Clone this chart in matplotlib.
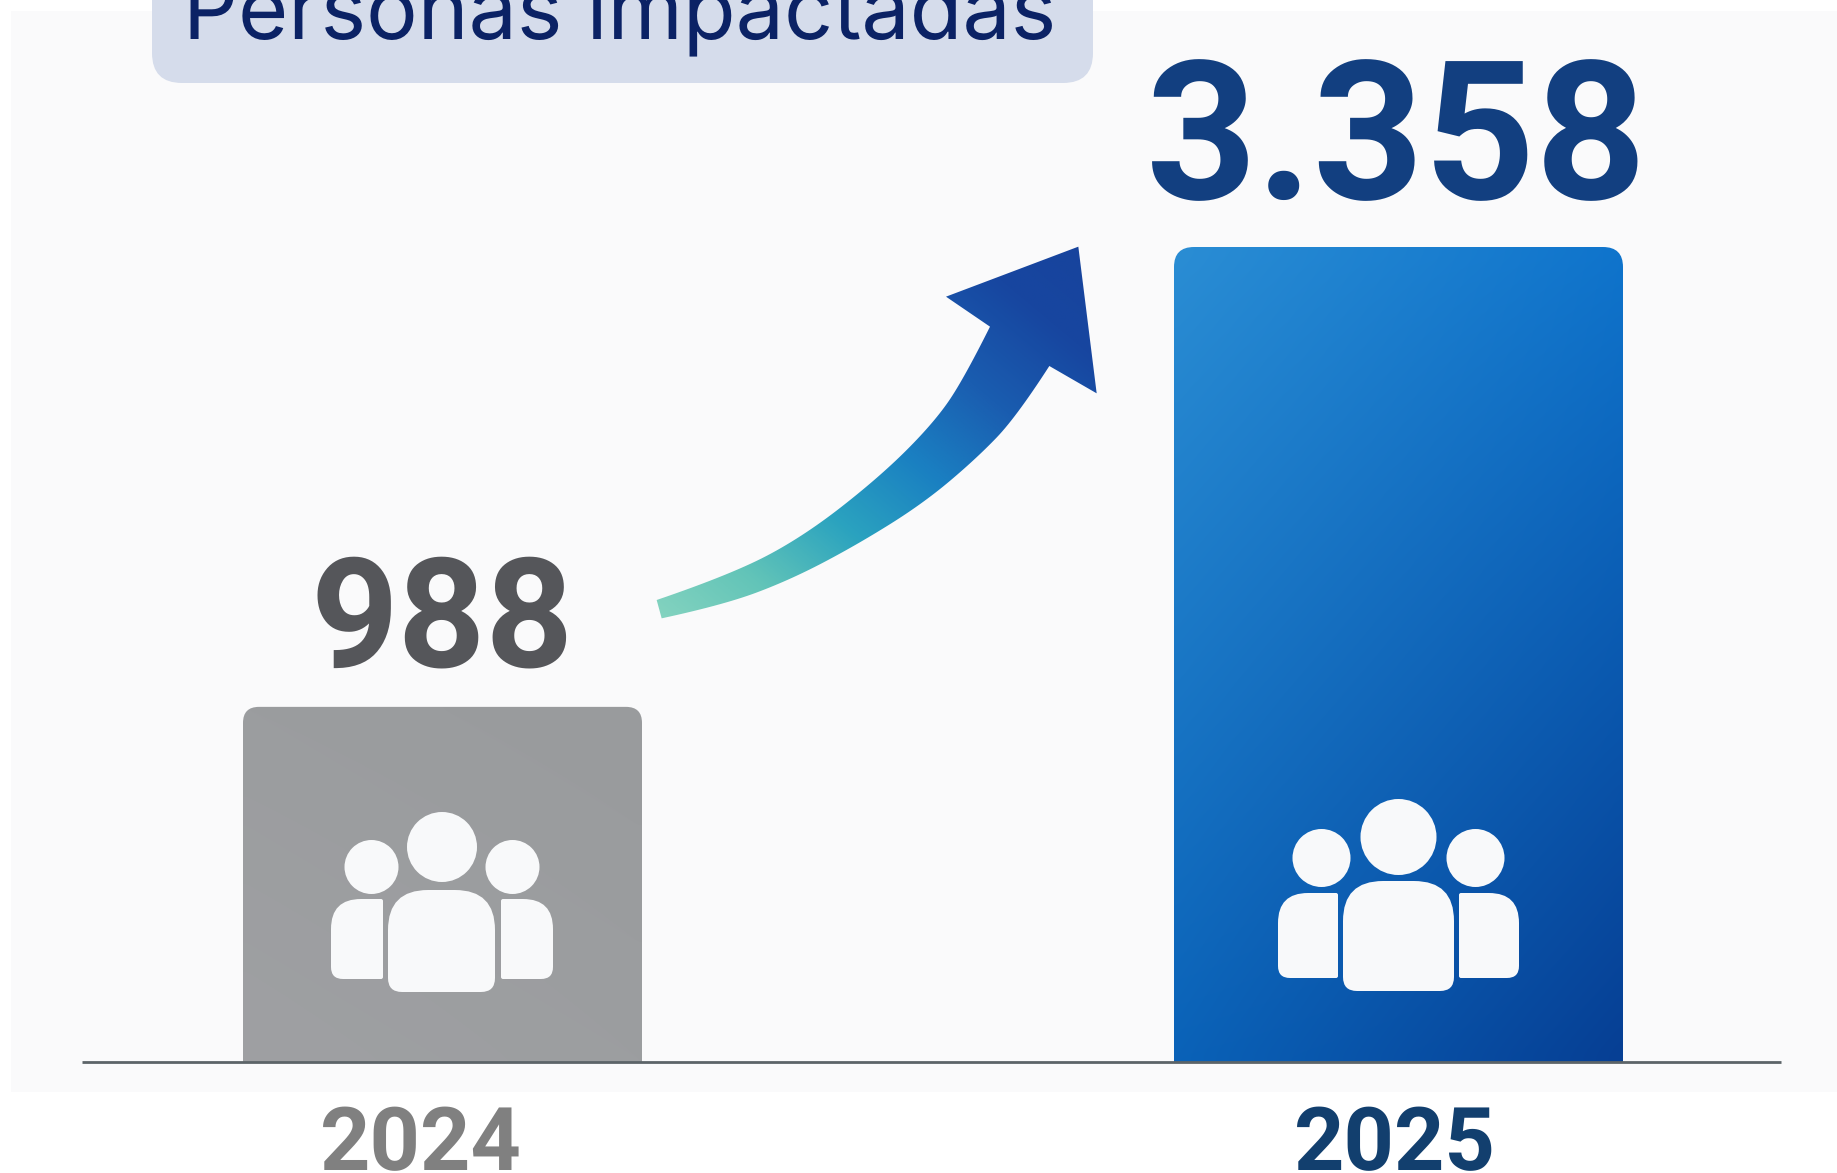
import numpy as np
import matplotlib
matplotlib.use('Agg')
import matplotlib.pyplot as plt
from matplotlib.colors import LinearSegmentedColormap, to_rgb
from matplotlib.patches import Circle, PathPatch, Rectangle
from matplotlib.path import Path

plt.rcParams['text.hinting'] = 'no_hinting'
plt.rcParams['text.hinting_factor'] = 1

# data
years = ['2024', '2025']
people = [988, 3358]
title = 'Personas impactadas'

W, H = 1837, 1173
BASE_Y = 1062
TOP_Y = 247
ICON = '#F8F9FA'
# the bars in the picture are not linear, a power scale fits both of them
POWER = 0.679


def rr_path(x0, y0, x1, y1, tl, tr, br, bl):
    # rounded box with its own radius on every corner
    verts = [(x0 + tl, y0), (x1 - tr, y0), (x1, y0), (x1, y0 + tr), (x1, y1 - br), (x1, y1), (x1 - br, y1),
             (x0 + bl, y1), (x0, y1), (x0, y1 - bl), (x0, y0 + tl), (x0, y0), (x0 + tl, y0), (x0 + tl, y0)]
    codes = [Path.MOVETO, Path.LINETO, Path.CURVE3, Path.CURVE3, Path.LINETO, Path.CURVE3, Path.CURVE3,
             Path.LINETO, Path.CURVE3, Path.CURVE3, Path.LINETO, Path.CURVE3, Path.CURVE3, Path.CLOSEPOLY]
    return Path(verts, codes)


def corner_gradient(tl, tr, bl, br, n=60):
    tl, tr, bl, br = [np.array(to_rgb(c)) for c in (tl, tr, bl, br)]
    u = np.linspace(0, 1, n)[None, :, None]
    v = np.linspace(0, 1, n)[:, None, None]
    return (tl * (1 - u) + tr * u) * (1 - v) + (bl * (1 - u) + br * u) * v


def edge(points):
    # the points are controls of a chain of quadratic curves, goes through the midpoints
    p = np.array(points, dtype=float)
    mid = (p[:-1] + p[1:]) / 2
    out = [p[0]]
    starts = np.vstack([p[0], mid[1:-1]])
    ends = np.vstack([mid[1:-1], p[-1]])
    for a, c, b in zip(starts, p[1:-1], ends):
        for t in np.linspace(0, 1, 16)[1:]:
            out.append((1 - t) ** 2 * a + 2 * t * (1 - t) * c + t ** 2 * b)
    return np.array(out)


def people_icon(cx, big_y, big_r, small_dx, small_y, small_r, mid, side):
    ax.add_patch(Circle((cx, big_y), big_r, fc=ICON, lw=0, zorder=6))
    ax.add_patch(Circle((cx - small_dx, small_y), small_r, fc=ICON, lw=0, zorder=6))
    ax.add_patch(Circle((cx + small_dx, small_y), small_r, fc=ICON, lw=0, zorder=6))
    ax.add_patch(PathPatch(rr_path(mid[0], mid[1], mid[2], mid[3], 40, 40, 14, 14), fc=ICON, lw=0, zorder=6))
    ax.add_patch(PathPatch(rr_path(side[0], side[1], side[2], side[3], 30, 2, 2, 12), fc=ICON, lw=0, zorder=6))
    ax.add_patch(PathPatch(rr_path(2 * cx - side[2], side[1], 2 * cx - side[0], side[3], 2, 30, 12, 2),
                           fc=ICON, lw=0, zorder=6))


fig = plt.figure(figsize=(W / 100, H / 100), dpi=100, facecolor='white')

# full figure axes in pixels, for the decoration
ax = fig.add_axes([0, 0, 1, 1], zorder=2)
ax.set_xlim(0, W)
ax.set_ylim(H, 0)
ax.axis('off')

# axes with the bars, bottom is the base line
bar_ax = fig.add_axes([0, 1 - BASE_Y / H, 1, (BASE_Y - TOP_Y) / H], zorder=1)
bar_ax.set_yscale('function', functions=(lambda v: np.maximum(v, 0) ** POWER,
                                         lambda v: np.maximum(v, 0) ** (1 / POWER)))
bar_ax.set_xlim(-442.5 / 956, (W - 442.5) / 956)
bar_ax.set_ylim(0, people[1])
bar_ax.axis('off')
bars = bar_ax.bar([0, 1], people, width=[399 / 956, 449 / 956], color='none')

ax.add_patch(Rectangle((11, 11), W, 1081, fc='#FAFAFB', lw=0, zorder=0))

# title pill, cut by the top of the picture
ax.add_patch(PathPatch(rr_path(152, -60, 1093, 83, 30, 30, 30, 30), fc='#D5DCEB', lw=0, zorder=1))
ax.text(183, 39, title, fontsize=62, family='Inter', color='#0B2265', va='baseline', zorder=3)

fig.canvas.draw()
grad = [corner_gradient('#9B9D9F', '#999B9D', '#9FA0A3', '#9C9EA0'),
        corner_gradient('#2A8DD4', '#0F74CC', '#0A62B8', '#063F94')]
for b, g, r in zip(bars, grad, [16, 20]):
    ext = b.get_window_extent()
    x0, x1, y1, y0 = ext.x0, ext.x1, H - ext.y0, H - ext.y1
    clip = PathPatch(rr_path(x0, y0, x1, y1, r, r, 0.1, 0.1), fc='none', lw=0, transform=ax.transData)
    ax.add_patch(clip)
    im = ax.imshow(g, extent=(x0, x1, y1, y0), aspect='auto', zorder=2, interpolation='bicubic')
    im.set_clip_path(clip)

ax.plot([82, 1781], [BASE_Y, BASE_Y], color='#5C6468', lw=2, zorder=5, solid_capstyle='butt')

people_icon(442, 847, 35, 70.5, 867, 27, (388, 890, 495, 992), (331, 899, 383, 979))
people_icon(1398.5, 837, 38, 77, 858, 29, (1343, 881, 1454, 991), (1278, 893, 1338, 978))

# arrow, outline
upper = edge([(50, 1140), (270, 1065), (490, 950), (720, 770), (880, 610), (970, 480), (1050, 320)])
lower = edge([(1228, 438), (1130, 590), (1010, 715), (850, 850), (650, 975), (450, 1080), (250, 1155), (65, 1195)])
head = np.array([(918, 230), (1315, 80), (1370, 520)], dtype=float)
outline = np.vstack([upper, head, lower, upper[:1]]) / 3 + [640, 220]
arrow = PathPatch(Path(outline, closed=True), fc='none', lw=0, transform=ax.transData)
ax.add_patch(arrow)
cmap = LinearSegmentedColormap.from_list('arrow', ['#86D4C0', '#62C4B8', '#2BA3BF', '#1A80C2',
                                                   '#1A5DB0', '#1746A0', '#17439C'])
xx, yy = np.meshgrid(np.linspace(0, 1, 200), np.linspace(0, 1, 200))
im = ax.imshow((xx + yy) / 2, extent=(650, 1105, 620, 240), origin='lower',
               aspect='auto', cmap=cmap, zorder=4, interpolation='bilinear')
im.set_clip_path(arrow)
ax.set_xlim(0, W)
ax.set_ylim(H, 0)

# labels
labels = ['{:,}'.format(v).replace(',', '.') for v in people]
ax.text(442, 666, labels[0], fontsize=110, family='Roboto', weight='bold', color='#55565A',
        ha='center', va='baseline', zorder=6)
ax.text(1397, 199, labels[1], fontsize=140, family='Roboto', weight='bold', color='#123F80',
        ha='center', va='baseline', zorder=6)
ax.text(421, 1170, years[0], fontsize=63, family='Roboto', weight='bold', color='#808080',
        ha='center', va='baseline', zorder=6)
ax.text(1395, 1170, years[1], fontsize=63, family='Roboto', weight='bold', color='#123F6E',
        ha='center', va='baseline', zorder=6)

fig.savefig('out.png', dpi=100)
